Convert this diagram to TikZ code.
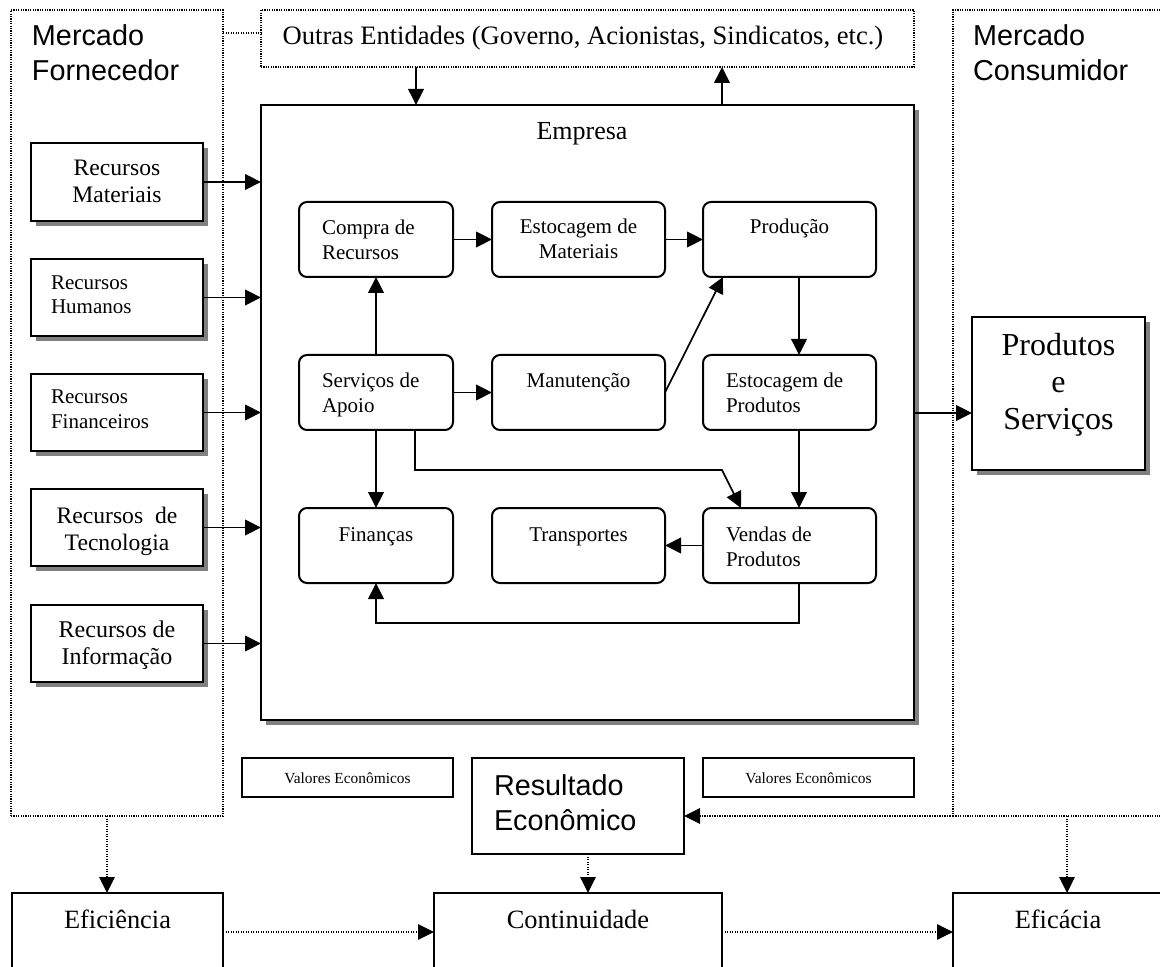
\documentclass[tikz,border=0pt]{standalone}
\usepackage{fontspec}
\setmainfont{Liberation Serif}
\newfontfamily\arialf{Liberation Sans}
\usetikzlibrary{arrows.meta,shadows,fit}
\newcommand{\mlt}[4]{{\fontsize{#1}{#2}\selectfont\begin{tabular}[t]{@{}#3@{}}#4\end{tabular}}}
\newcommand{\fsz}[1]{\fontsize{#1}{#1}\selectfont}
\begin{document}
\begin{tikzpicture}[x=0.5pt,y=-0.5pt,
  box/.style={draw, line width=1.1pt, fill=white, inner sep=0pt, outer sep=0pt},
  sbox/.style={box, drop shadow={shadow xshift=2.5pt, shadow yshift=-2.5pt, fill=black!50, opacity=1}},
  tbox/.style={box, line width=1pt},
  dbox/.style={draw, line width=0.6pt, dash pattern=on 0.6pt off 0.6pt, inner sep=0pt, outer sep=0pt},
  rbox/.style={draw, line width=1pt, fill=white, rounded corners=4pt, inner sep=0pt, outer sep=0pt},
  tx/.style={inner sep=0pt, outer sep=0pt},
  arr/.style={line width=0.85pt, -{Triangle[length=8pt,width=7.8pt]}},
  dln/.style={line width=0.65pt, dash pattern=on 0.65pt off 0.6pt},
  darr/.style={dln, -{Triangle[length=8pt,width=7.8pt]}}]
\useasboundingbox (0,0) rectangle (1160,967);
\clip (0,0) rectangle (1160,967);
\fill[white] (0,0) rectangle (1160,967);

% markets and other entities
\node[dbox, fit={(11,10) (223,816)}] (lm) {};
\node[dbox, fit={(953,10) (1190,816)}] (rm) {};
\node[dbox, fit={(261,10) (914,67)}] (oe) {};
\node[tx, anchor=base west] (tlm) at ([xshift=10.5pt,yshift=-18pt]lm.north west) {\arialf\mlt{14.4}{17.5}{l}{Mercado\\Fornecedor}};
\node[tx, anchor=base west] (trm) at ([xshift=10pt,yshift=-18pt]rm.north west) {\arialf\mlt{14.4}{17.5}{l}{Mercado\\Consumidor}};
\node[tx, anchor=base] (toe) at ([xshift=-2.25pt,yshift=-17.5pt]oe.north) {\fsz{13.3}Outras Entidades (Governo, Acionistas, Sindicatos, etc.)};

% empresa
\node[sbox, fit={(261,105) (914,720)}] (em) {};
\node[tx, anchor=base] (tem) at ([xshift=-2.75pt,yshift=-17.5pt]em.north) {\fsz{13}Empresa};

% resources
\node[sbox, fit={(31,143) (203,221)}] (r1) {};
\node[sbox, fit={(31,259) (203,336)}] (r2) {};
\node[sbox, fit={(31,374) (203,451)}] (r3) {};
\node[sbox, fit={(31,489) (203,566)}] (r4) {};
\node[sbox, fit={(31,605) (203,682)}] (r5) {};
\node[tx, anchor=base] (tr1) at ([yshift=-16.5pt]r1.north) {\mlt{11.8}{13.5}{c}{Recursos\\Materiais}};
\node[tx, anchor=base west] (tr2) at ([xshift=10pt,yshift=-15.5pt]r2.north west) {\mlt{10.5}{12}{l}{Recursos\\Humanos}};
\node[tx, anchor=base west] (tr3) at ([xshift=10pt,yshift=-15pt]r3.north west) {\mlt{10.5}{12.5}{l}{Recursos\\Financeiros}};
\node[tx, anchor=base] (tr4) at ([yshift=-17pt]r4.north) {\mlt{11.8}{13.5}{c}{Recursos\ \ de\\Tecnologia}};
\node[tx, anchor=base] (tr5) at ([yshift=-16pt]r5.north) {\mlt{12}{13.5}{c}{Recursos de\\Informação}};

% inner boxes
\node[rbox, fit={(299,202) (453,277)}] (c11) {};
\node[rbox, fit={(492,202) (665,277)}] (c12) {};
\node[rbox, fit={(703,202) (876,277)}] (c13) {};
\node[rbox, fit={(299,355) (453,430)}] (c21) {};
\node[rbox, fit={(492,355) (665,430)}] (c22) {};
\node[rbox, fit={(703,355) (876,430)}] (c23) {};
\node[rbox, fit={(299,508) (453,583)}] (c31) {};
\node[rbox, fit={(492,508) (665,583)}] (c32) {};
\node[rbox, fit={(703,508) (876,583)}] (c33) {};
\node[tx, anchor=base west] (t11) at ([xshift=11.5pt,yshift=-16.5pt]c11.north west) {\mlt{10.5}{12.5}{l}{Compra de\\Recursos}};
\node[tx, anchor=base] (t12) at ([yshift=-16pt]c12.north) {\mlt{10.5}{12.5}{c}{Estocagem de\\Materiais}};
\node[tx, anchor=base] (t13) at ([yshift=-16pt]c13.north) {\fsz{10.5}Produção};
\node[tx, anchor=base west] (t21) at ([xshift=11.5pt,yshift=-16.5pt]c21.north west) {\mlt{10.5}{12.5}{l}{Serviços de\\Apoio}};
\node[tx, anchor=base] (t22) at ([yshift=-16.5pt]c22.north) {\fsz{10.5}Manutenção};
\node[tx, anchor=base west] (t23) at ([xshift=11.5pt,yshift=-16.5pt]c23.north west) {\mlt{10.5}{12.5}{l}{Estocagem de\\Produtos}};
\node[tx, anchor=base] (t31) at ([yshift=-16.5pt]c31.north) {\fsz{10.5}Finanças};
\node[tx, anchor=base] (t32) at ([yshift=-16.5pt]c32.north) {\fsz{10.5}Transportes};
\node[tx, anchor=base west] (t33) at ([xshift=11.5pt,yshift=-16.5pt]c33.north west) {\mlt{10.5}{12.5}{l}{Vendas de\\Produtos}};

% products
\node[sbox, fit={(972,317) (1145,470)}] (ps) {};
\node[tx, anchor=base] (tps) at ([yshift=-19.5pt]ps.north) {\mlt{16}{18.5}{c}{Produtos\\e\\Serviços}};

% lower boxes
\node[tbox, fit={(242,758) (453,797)}] (v1) {};
\node[tbox, fit={(472,758) (684,854)}] (re) {};
\node[tbox, fit={(703,758) (914,797)}] (v2) {};
\node[tx, anchor=base] (tv1) at ([yshift=-12.5pt]v1.north) {\fsz{7.7}Valores Econômicos};
\node[tx, anchor=base] (tv2) at ([yshift=-12.5pt]v2.north) {\fsz{7.7}Valores Econômicos};
\node[tx, anchor=base west] (tre) at ([xshift=11pt,yshift=-18.5pt]re.north west) {\arialf\mlt{14.4}{17.5}{l}{Resultado\\Econômico}};

\node[tbox, fit={(12,893) (223,1000)}] (ef) {};
\node[tbox, fit={(434,893) (722,1000)}] (co) {};
\node[tbox, fit={(953,893) (1190,1000)}] (ec) {};
\node[tx, anchor=base] (tef) at ([yshift=-17.5pt]ef.north) {\fsz{13.2}Eficiência};
\node[tx, anchor=base] (tco) at ([yshift=-17.5pt]co.north) {\fsz{13.2}Continuidade};
\node[tx, anchor=base] (tec) at ([xshift=52.5pt,yshift=-17.5pt]ec.north west) {\fsz{13.2}Eficácia};

% solid connectors
\foreach \r in {r1,r2,r3,r4,r5} \draw[arr] (\r.east) -- (\r.east -| em.west);
\coordinate (xa) at (416,0);
\coordinate (xb) at (722,0);
\coordinate (ya) at (0,413);
\draw[arr] (oe.south -| xa) -- (em.north -| xa);
\draw[arr] (em.north -| xb) -- (oe.south -| xb);
\draw[arr] (em.east |- ya) -- (ps.west |- ya);
\draw[arr] (c11.east) -- (c12.west);
\draw[arr] (c12.east) -- (c13.west);
\draw[arr] (c21.north) -- (c11.south);
\draw[arr] (c21.east) -- (c22.west);
\draw[arr] (c22.east) -- ([xshift=10pt]c13.south west);
\draw[arr] ([xshift=4.75pt]c13.south) -- ([xshift=4.75pt]c23.north);
\draw[arr] ([xshift=4.75pt]c23.south) -- ([xshift=4.75pt]c33.north);
\draw[arr] (c21.south) -- (c31.north);
\coordinate (kb) at (722,470);
\draw[arr] ([xshift=19.5pt]c21.south) |- (kb) -- ([xshift=19pt]c33.north west);
\draw[arr] (c33.west) -- (c32.east);
\draw[arr] ([xshift=4.75pt]c33.south) -- ++(0,40) -| (c31.south);

% dotted connectors
\coordinate (yd) at (0,33);
\coordinate (xe) at (107,0);
\coordinate (xf) at (588,0);
\coordinate (xg) at (1067,0);
\coordinate (yh) at (0,932);
\draw[dln] (lm.east |- yd) -- (oe.west |- yd);
\draw[darr] (lm.south -| xe) -- (ef.north -| xe);
\draw[darr] (re.south -| xf) -- (co.north -| xf);
\draw[darr] (rm.south -| xg) -- (ec.north -| xg);
\draw[darr] (rm.south west) -- (re.east |- rm.south west);
\draw[darr] (ef.east |- yh) -- (co.west |- yh);
\draw[darr] (co.east |- yh) -- (ec.west |- yh);
\end{tikzpicture}
\end{document}
